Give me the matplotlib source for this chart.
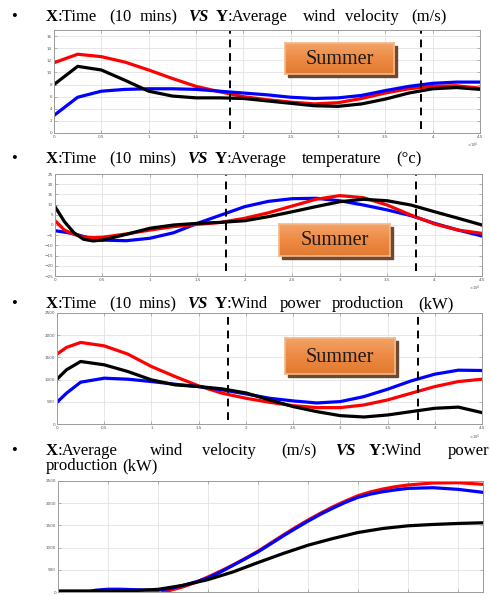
import numpy as np
import matplotlib
matplotlib.use("Agg")
import matplotlib.pyplot as plt
from matplotlib.patches import Rectangle
from matplotlib.ticker import FuncFormatter

# ---------------------------
# DATA
# ---------------------------

# panel 1 : wind velocity (m/s) vs time (10 mins)
t1 = [0, 2500, 5000, 7500, 10000, 12500, 15000, 17500, 20000, 22500,
      25000, 27500, 30000, 32500, 35000, 37500, 40000, 42500, 45000]
wind_red = [11.6, 13.0, 12.6, 11.7, 10.4, 9.0, 7.7, 6.8, 6.0, 5.5,
            5.1, 4.8, 5.0, 5.7, 6.6, 7.3, 7.7, 7.8, 7.4]
wind_black = [8.0, 11.0, 10.4, 8.7, 6.9, 6.1, 5.8, 5.8, 5.7, 5.3,
              4.9, 4.5, 4.4, 4.8, 5.6, 6.6, 7.3, 7.5, 7.2]
wind_blue = [2.9, 5.9, 6.9, 7.2, 7.3, 7.3, 7.2, 6.9, 6.6, 6.3,
             5.9, 5.7, 5.8, 6.2, 7.0, 7.7, 8.2, 8.4, 8.4]
summer1 = [18640, 38760]

# panel 2 : temperature (°c) vs time
t2 = [0, 1000, 2000, 3000, 4000, 5000, 7500, 10000, 12500, 15000, 17500,
      20000, 22500, 25000, 27500, 30000, 32500, 35000, 37500, 40000,
      42500, 45000]
temp_blue = [-2.8, -3.5, -4.3, -5.6, -6.8, -7.4, -7.7, -6.5, -3.8, 0.8,
             4.9, 9.0, 11.6, 12.9, 13.1, 11.9, 9.8, 7.4, 4.6, 0.8, -2.5, -5.4]
temp_red = [2.1, -2.5, -4.6, -5.9, -6.2, -6.0, -4.4, -2.5, -0.8, 0.3,
            1.3, 3.3, 6.0, 9.3, 12.6, 14.4, 13.4, 9.8, 4.9, 0.5, -2.5, -4.1]
temp_black = [9.0, 1.6, -3.8, -7.0, -7.8, -7.4, -4.6, -1.6, 0.0, 0.8,
              1.3, 2.1, 4.1, 6.5, 9.0, 11.4, 12.6, 11.9, 9.8, 6.5, 3.3, 0.0]
summer2 = [17970, 38050]

# panel 3 : wind power production (kW) vs time
t3 = [0, 1000, 2500, 5000, 7500, 10000, 12500, 15000, 17500, 20000,
      22500, 25000, 27500, 30000, 32500, 35000, 37500, 40000, 42500, 45000]
power_red = [1574, 1724, 1837, 1760, 1574, 1295, 1069, 858, 693, 580,
             489, 414, 369, 369, 429, 542, 693, 843, 956, 1009]
power_black = [1009, 1220, 1408, 1333, 1182, 994, 881, 843, 791, 700,
               542, 392, 279, 188, 158, 203, 279, 354, 380, 256]
power_blue = [489, 693, 941, 1032, 1009, 956, 896, 843, 768, 678,
              580, 520, 474, 505, 617, 783, 971, 1122, 1212, 1205]
summer3 = [18150, 38230]

# panel 4 : wind power (kW) vs wind velocity (m/s)
v_red = [4.2, 4.5, 5, 5.5, 6, 6.5, 7, 7.5, 8, 8.5, 9, 9.5, 10, 10.5, 11,
         11.5, 12, 12.5, 13, 13.5, 14, 15, 16, 17]
pc_red = [0, 40, 115, 215, 339, 470, 610, 760, 919, 1100, 1280, 1455, 1620,
          1775, 1920, 2050, 2169, 2255, 2320, 2372, 2410, 2455, 2462, 2425]
v_blue = [1.2, 1.5, 2, 2.5, 3, 3.5, 4, 4.5, 5, 5.5, 6, 6.5, 7, 7.5, 8, 8.5,
          9, 9.5, 10, 10.5, 11, 11.5, 12, 12.5, 13, 13.5, 14, 15, 16, 17]
pc_blue = [0, 40, 62, 62, 53, 45, 40, 80, 150, 225, 316, 450, 600, 750, 904,
           1080, 1260, 1430, 1596, 1750, 1890, 2020, 2131, 2205, 2259, 2300,
           2334, 2349, 2312, 2244]
v_black = [0, 1, 2, 3, 4, 5, 6, 7, 8, 9, 10, 11, 12, 13, 14, 15, 16, 17]
pc_black = [23, 23, 23, 30, 60, 150, 279, 452, 663, 866, 1054, 1205, 1340,
            1431, 1491, 1521, 1544, 1559]

# ---------------------------
# FIGURE
# ---------------------------

W, H = 490, 596
fig = plt.figure(figsize=(W / 100, H / 100), dpi=100)
fig.patch.set_facecolor("white")
rend = fig.canvas.get_renderer()

SERIF = "Liberation Serif"
LW = 2.3
TSIZE = 12


def ax_at(left, top, right, bottom):
    return fig.add_axes([left / W, 1 - bottom / H, (right - left) / W, (bottom - top) / H])


def style_ax(ax):
    ax.grid(True, color="#e3e3e3", lw=0.6)
    ax.set_axisbelow(True)
    for s in ax.spines.values():
        s.set_color("#9a9a9a")
        s.set_linewidth(0.7)
    ax.tick_params(direction="in", length=2, width=0.5, labelsize=3,
                   colors="#9a9a9a", labelcolor="#555555", pad=1.5,
                   top=True, right=True)


def time_ax(ax):
    ax.set_xlim(0, 45000)
    ax.set_xticks(np.arange(0, 45001, 5000))
    ax.xaxis.set_major_formatter(FuncFormatter(lambda v, p: f"{v / 1e4:g}"))
    ax.text(0.995, -0.075, r"$\times10^4$", transform=ax.transAxes, ha="right",
            va="top", fontsize=2.6, color="#555555")


def summer_box(left, top, right, bottom, size=14.5):
    # shadow
    fig.patches.append(Rectangle(((left + 3) / W, 1 - (bottom + 3) / H),
                                 (right - left) / W, (bottom - top) / H,
                                 transform=fig.transFigure, color="#6b4a33",
                                 zorder=4))
    bx = ax_at(left, top, right, bottom)
    bx.set_zorder(5)
    grad = np.linspace(0, 1, 64).reshape(-1, 1)
    cmap = matplotlib.colors.LinearSegmentedColormap.from_list(
        "org", ["#f3a368", "#ed8a44", "#e27a30"])
    bx.imshow(grad, aspect="auto", cmap=cmap, extent=[0, 1, 0, 1], origin="upper")
    bx.set_xlim(0, 1)
    bx.set_ylim(0, 1)
    bx.set_xticks([])
    bx.set_yticks([])
    for s in bx.spines.values():
        s.set_color("#f6b886")
        s.set_linewidth(1.2)
    bx.text(0.5, 0.47, "Summer", ha="center", va="center", fontsize=size,
            family=SERIF, color="#1a1a1a")


def bullet_line(x0, x1, y, parts, size=TSIZE, bullet=True):
    # parts: list of words, each word a list of (text, weight, style)
    # x1 = right edge to spread the words to, None = natural spacing
    widths, wordw = [], []
    for word in parts:
        segw = []
        for s, wgt, sty in word:
            t = fig.text(0, 0, s, fontsize=size, family=SERIF, weight=wgt, style=sty)
            segw.append(t.get_window_extent(renderer=rend).width)
            t.remove()
        widths.append(segw)
        wordw.append(sum(segw))
    t = fig.text(0, 0, "a a", fontsize=size, family=SERIF)
    t2 = fig.text(0, 0, "aa", fontsize=size, family=SERIF)
    sp = t.get_window_extent(renderer=rend).width - t2.get_window_extent(renderer=rend).width
    t.remove()
    t2.remove()
    offs, x = [], 0.0
    for w in wordw:
        offs.append(x)
        x += w + sp
    f = 1.0
    if x1 is not None and len(offs) > 1:
        f = (x1 - x0 - wordw[-1]) / offs[-1]
    for word, segw, o in zip(parts, widths, offs):
        xx = x0 + o * f
        for (s, wgt, sty), w in zip(word, segw):
            fig.text(xx / W, 1 - y / H, s, fontsize=size, family=SERIF,
                     weight=wgt, style=sty, va="baseline", color="black")
            xx += w
    if bullet:
        fig.text(11 / W, 1 - y / H, "\u2022", fontsize=size, family=SERIF,
                 va="baseline")


def words(text):
    return [[(w, "normal", "normal")] for w in text.split(" ")]


X = [("X", "bold", "normal")]
Y = [("Y", "bold", "normal")]
VS = [("VS", "bold", "italic")]


def title(ylab):
    first = [X + [(":Time", "normal", "normal")]] + words("(10 mins)") + [VS]
    rest = words(ylab)
    rest[0] = Y + [(":" + rest[0][0][0], "normal", "normal")]
    return first + rest


# ---------------------------
# PANEL 1
# ---------------------------
bullet_line(46, 447, 21, title("Average wind velocity (m/s)"))
ax1 = ax_at(54, 30, 480, 133)
style_ax(ax1)
time_ax(ax1)
ax1.plot(t1, wind_red, color="red", lw=LW)
ax1.plot(t1, wind_blue, color="blue", lw=LW)
ax1.plot(t1, wind_black, color="black", lw=LW)
for xv in summer1:
    ax1.axvline(xv, ymin=0.04, color="black", lw=1.4, ls=(0, (4, 3)))
ax1.set_ylim(0, 17)
ax1.set_yticks(np.arange(0, 17, 2))
summer_box(285, 43, 394, 74)

# ---------------------------
# PANEL 2
# ---------------------------
bullet_line(46, 422, 163, title("Average temperature (\u00b0c)"))
ax2 = ax_at(55, 174, 482, 276)
style_ax(ax2)
time_ax(ax2)
ax2.plot(t2, temp_blue, color="blue", lw=LW)
ax2.plot(t2, temp_red, color="red", lw=LW)
ax2.plot(t2, temp_black, color="black", lw=LW)
for xv in summer2:
    ax2.axvline(xv, ymin=0.05, color="black", lw=1.4, ls=(0, (4, 3)))
ax2.set_ylim(-25, 25)
ax2.set_yticks(np.arange(-25, 26, 5))
summer_box(279, 224, 390, 256)

# ---------------------------
# PANEL 3
# ---------------------------
bullet_line(46, 454, 308, title("Wind power production (kW)"))
ax3 = ax_at(57, 313, 482, 424)
style_ax(ax3)
time_ax(ax3)
ax3.plot(t3, power_red, color="red", lw=LW)
ax3.plot(t3, power_blue, color="blue", lw=LW)
ax3.plot(t3, power_black, color="black", lw=LW)
for xv in summer3:
    ax3.axvline(xv, ymin=0.04, color="black", lw=1.4, ls=(0, (4, 3)))
ax3.set_ylim(0, 2500)
ax3.set_yticks(np.arange(0, 2501, 500))
summer_box(285, 338, 395, 374)

# ---------------------------
# PANEL 4
# ---------------------------
line4 = [X + [(":Average", "normal", "normal")]] + words("wind velocity (m/s)") + [VS] \
    + [Y + [(":Wind", "normal", "normal")]] + words("power")
bullet_line(46, 489, 455, line4)
bullet_line(46, None, 470, words("production (kW)"), bullet=False)
ax4 = ax_at(58, 481, 483, 592)
style_ax(ax4)
ax4.plot(v_red, pc_red, color="red", lw=LW)
ax4.plot(v_blue, pc_blue, color="blue", lw=LW)
ax4.plot(v_black, pc_black, color="black", lw=LW)
ax4.set_xlim(0, 17)
ax4.set_xticks(np.arange(0, 17, 2))
ax4.tick_params(axis="x", labelbottom=False)
ax4.set_ylim(0, 2500)
ax4.set_yticks(np.arange(0, 2501, 500))

fig.savefig("out.png", dpi=100)
